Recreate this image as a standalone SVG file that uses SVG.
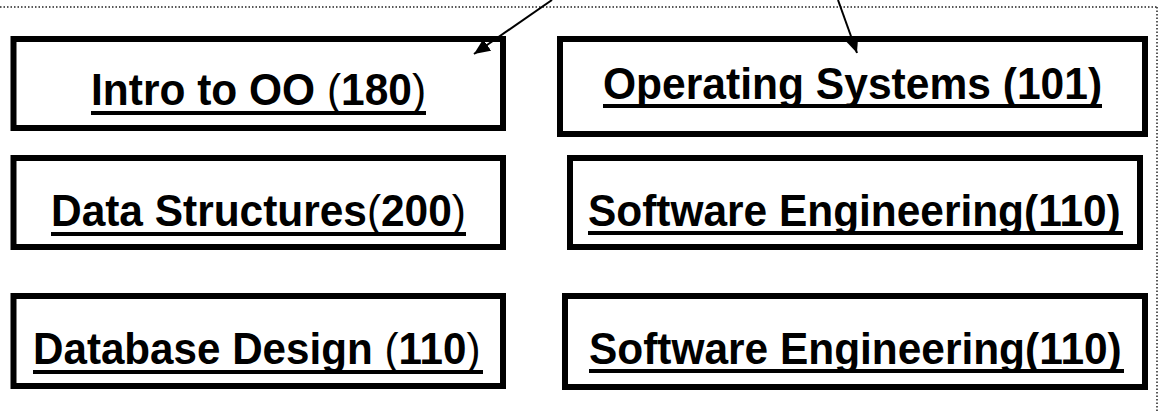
<svg xmlns="http://www.w3.org/2000/svg" width="1165" height="411" viewBox="0 0 1165 411">
<style>
.box{fill:#fff;stroke:#000;stroke-width:6}
.lbl{font-family:"Liberation Sans",Arial,sans-serif;font-size:45px;font-weight:bold;fill:#000}
.n{font-weight:normal}
.ul{stroke:#000;stroke-width:4}
.dot{stroke:#222;stroke-width:1.5;stroke-dasharray:1.5 2;fill:none}
.conn{stroke:#000;stroke-width:2;fill:none}
</style>
<defs>
<marker id="ah" viewBox="0 0 16 14" refX="16" refY="7" markerWidth="16" markerHeight="14" markerUnits="userSpaceOnUse" orient="auto">
<path d="M0,0 L16,7 L0,14 z" fill="#000"/>
</marker>
</defs>
<rect width="1165" height="411" fill="#fff"/>
<g id="frame">
<line class="dot" x1="0" y1="7" x2="1157" y2="7"/>
<line class="dot" x1="1157" y1="7" x2="1157" y2="411"/>
</g>
<g id="n1">
<rect class="box" x="13.5" y="39" width="489.5" height="89"/>
<text class="lbl" transform="translate(91,105) scale(0.944,1)" x="0" y="0">Intro to OO <tspan class="n">(</tspan>180<tspan class="n">)</tspan></text>
<line class="ul" x1="91" y1="113" x2="426" y2="113"/>
</g>
<g id="n2">
<rect class="box" x="560" y="39" width="585" height="95"/>
<text class="lbl" transform="translate(603,99) scale(0.946,1)" x="0" y="0">Operating Systems (101)</text>
<line class="ul" x1="603" y1="106" x2="1102" y2="106"/>
</g>
<g id="n3">
<rect class="box" x="13.5" y="158" width="489.5" height="89"/>
<text class="lbl" transform="translate(51,226) scale(0.943,1)" x="0" y="0">Data Structures<tspan class="n">(</tspan>200<tspan class="n">)</tspan></text>
<line class="ul" x1="51" y1="234" x2="466" y2="234"/>
</g>
<g id="n4">
<rect class="box" x="570" y="158" width="570" height="89"/>
<text class="lbl" transform="translate(588,226) scale(0.943,1)" x="0" y="0">Software Engineering(110)</text>
<line class="ul" x1="588" y1="233" x2="1123" y2="233"/>
</g>
<g id="n5">
<rect class="box" x="13.5" y="296" width="489.5" height="90"/>
<text class="lbl" transform="translate(33,364) scale(0.937,1)" x="0" y="0">Database Design <tspan class="n">(</tspan>110<tspan class="n">)</tspan></text>
<line class="ul" x1="33" y1="372" x2="483" y2="372"/>
</g>
<g id="n6">
<rect class="box" x="565" y="296" width="580" height="91"/>
<text class="lbl" transform="translate(589,364) scale(0.943,1)" x="0" y="0">Software Engineering(110)</text>
<line class="ul" x1="589" y1="371" x2="1124" y2="371"/>
</g>
<g id="connectors">
<line class="conn" x1="552" y1="0" x2="474" y2="54" marker-end="url(#ah)"/>
<line class="conn" x1="838" y1="0" x2="857" y2="53" marker-end="url(#ah)"/>
</g>
</svg>
